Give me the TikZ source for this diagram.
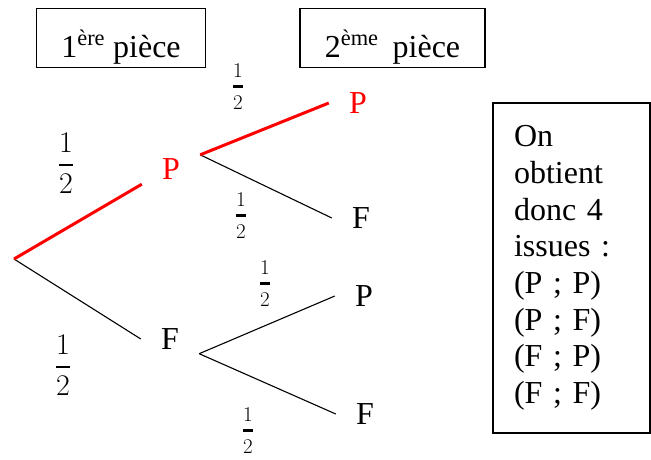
\RequirePackage{fix-cm}
\documentclass[tikz,border=0pt]{standalone}
\usepackage{amsmath}
\usepackage{fontspec}
\setmainfont{Liberation Serif}
\newcommand{\demi}{$\displaystyle\genfrac{}{}{2.6pt}{}{1}{2}$}

\begin{document}
\begin{tikzpicture}[x=1pt,y=-1pt,
  titre/.style={draw,line width=1.2pt,minimum width=169pt,minimum height=59pt,
    inner sep=0pt,text height=45pt,text depth=7pt,font=\fontsize{32}{36}\selectfont},
  issue/.style={minimum width=58pt,minimum height=29pt,inner sep=0pt,
    font=\fontsize{32}{36}\selectfont},
  branche/.style={black,line width=1.1pt},
  choix/.style={red,line width=3pt},
  grande/.style={inner sep=0pt,font=\fontsize{30}{35}\selectfont},
  petite/.style={inner sep=0pt,font=\fontsize{21}{25}\selectfont}]
\useasboundingbox (0,0) rectangle (651,459);
\node[titre] (piece1) at (121,38) {1\textsuperscript{ère} pièce};
\node[titre,minimum width=185pt] (piece2) at (392.5,38)
  {2\textsuperscript{ème}\hspace{14pt}pièce};
\coordinate (racine) at (14,259);
\node[issue,text=red] (P) at (171,169.5) {P};
\node[issue] (F) at (170,339) {F};
\node[issue,text=red] (PP) at (358,103) {P};
\node[issue] (PF) at (361,218) {F};
\node[issue] (FP) at (364,296) {P};
\node[issue] (FF) at (365,414) {F};
\draw[branche] (racine) -- (F.west);
\draw[choix] (racine) -- (P.south west);
\draw[branche] (P.north east) -- (PF.west);
\draw[choix] (P.north east) -- (PP.west);
\draw[branche] (F.south east) -- (FP.west);
\draw[branche] (F.south east) -- (FF.west);
\node[grande] (p1) at (66,163) {\demi};
\node[grande] (p2) at (63,365) {\demi};
\node[petite] (p11) at (238,86.5) {\demi};
\node[petite] (p12) at (241,215.5) {\demi};
\node[petite] (p21) at (265,283.5) {\demi};
\node[petite] (p22) at (248,430.5) {\demi};
\node[draw,line width=1.2pt,text width=115pt,inner xsep=21pt,minimum height=330pt,
  align=left,font=\fontsize{32}{36.7}\selectfont] (issues) at (571.5,268)
  {On\\obtient\\donc 4\\issues :\\(P ; P)\\(P ; F)\\(F ; P)\\(F ; F)};
\end{tikzpicture}
\end{document}
